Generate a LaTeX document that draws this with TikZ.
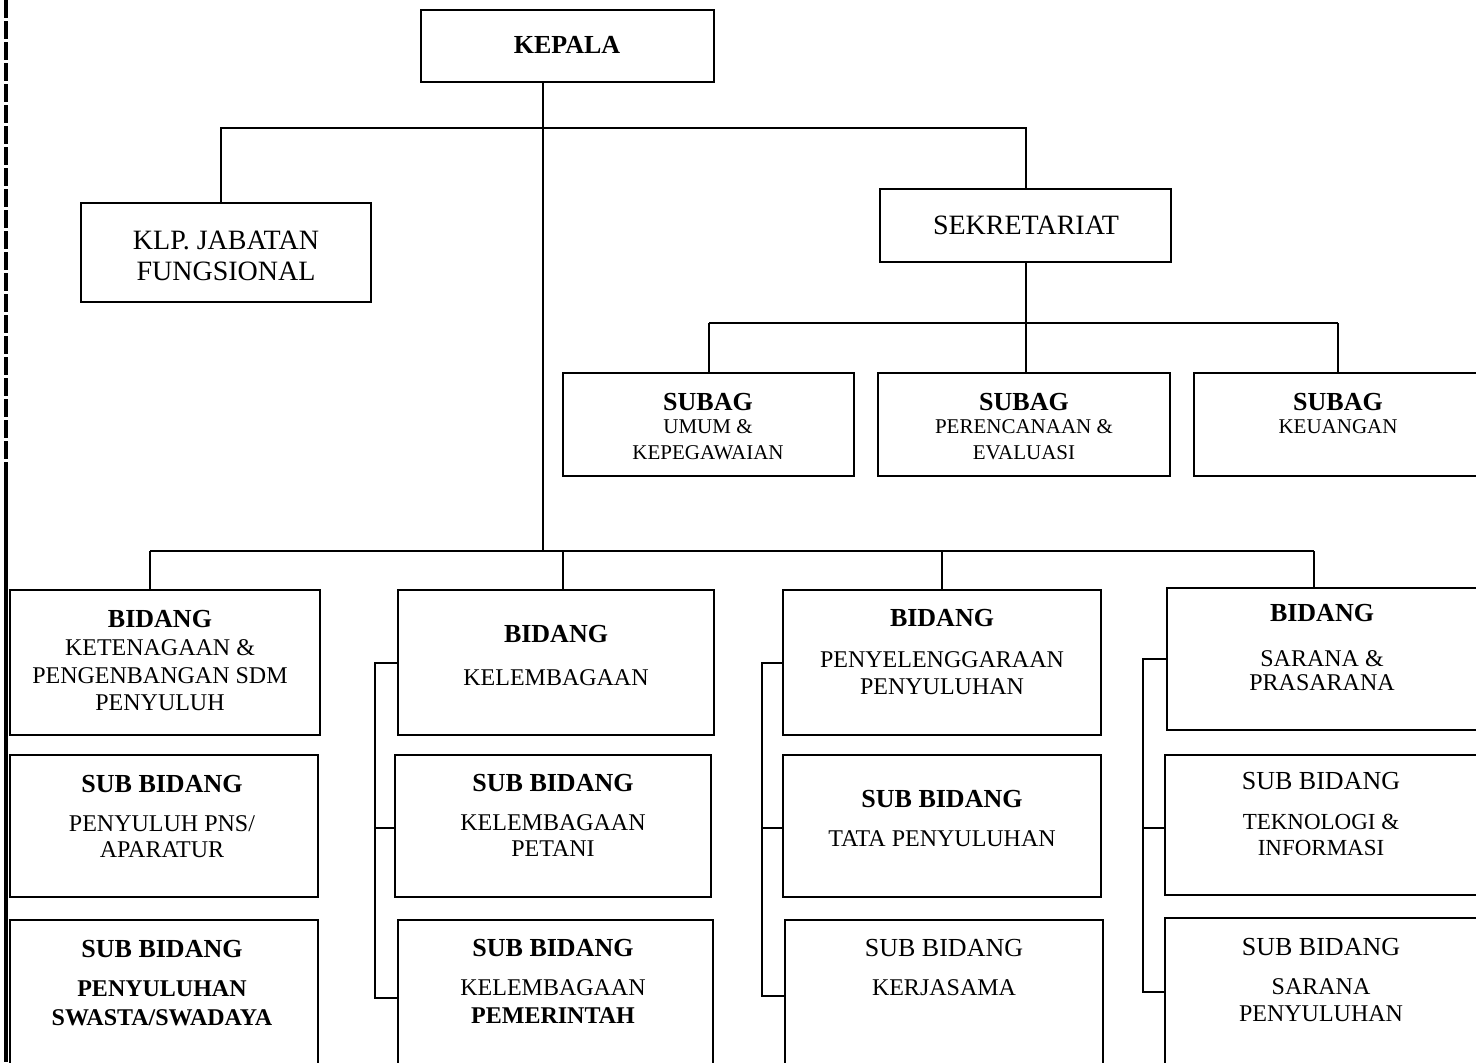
\documentclass[tikz,border=0pt]{standalone}
\usepackage{fontspec}
\setmainfont{Liberation Serif}
\usetikzlibrary{fit}
\begin{document}
\begin{tikzpicture}[x=0.5pt,y=-0.5pt,
  box/.style={draw,line width=0.9pt,inner sep=0pt},
  conn/.style={line width=0.7pt},
  brk/.style={line width=0.9pt},
  hd/.style={font=\fontsize{13}{15}\selectfont\bfseries,inner sep=0pt,anchor=base},
  hr/.style={font=\fontsize{13}{15}\selectfont,inner sep=0pt,anchor=base},
  tx/.style={font=\fontsize{12}{14}\selectfont,inner sep=0pt,anchor=base},
  txs/.style={font=\fontsize{11.5}{14}\selectfont,inner sep=0pt,anchor=base},
  txb/.style={font=\fontsize{12}{14}\selectfont\bfseries,inner sep=0pt,anchor=base},
  sm/.style={font=\fontsize{10.5}{12}\selectfont,inner sep=0pt,anchor=base},
  big/.style={font=\fontsize{14}{16}\selectfont,inner sep=0pt,anchor=base}]
\useasboundingbox (0,0) rectangle (1476,1062);
\clip (0,0) rectangle (1476,1062);
\fill[white] (0,0) rectangle (1476,1062);

% scan edge at the left
\draw[line width=1.6pt,dash pattern=on 9pt off 1.5pt] (6,0) -- (6,470);
\draw[line width=2.4pt] (6,470) -- (6,1062);

% boxes
\node[box,fit={(421,10)(714,82)}] (kepala) {};
\node[box,fit={(81,203)(371,302)}] (klp) {};
\node[box,fit={(880,189)(1171,262)}] (sekr) {};
\node[box,fit={(563,373)(854,476)}] (sg1) {};
\node[box,fit={(878,373)(1170,476)}] (sg2) {};
\node[box,fit={(1194,373)(1490,476)}] (sg3) {};
\node[box,fit={(10,590)(320,735)}] (b1) {};
\node[box,fit={(398,590)(714,735)}] (b2) {};
\node[box,fit={(783,590)(1101,735)}] (b3) {};
\node[box,fit={(1167,588)(1490,730)}] (b4) {};
\node[box,fit={(10,755)(318,897)}] (s11) {};
\node[box,fit={(395,755)(711,897)}] (s12) {};
\node[box,fit={(783,755)(1101,897)}] (s13) {};
\node[box,fit={(1165,755)(1490,895)}] (s14) {};
\node[box,fit={(10,920)(318,1080)}] (s21) {};
\node[box,fit={(398,920)(713,1080)}] (s22) {};
\node[box,fit={(785,920)(1103,1080)}] (s23) {};
\node[box,fit={(1165,918)(1490,1080)}] (s24) {};

% texts
\node[hd] (t-kepala) at (567,53) {KEPALA};
\node[big] (t-klp1) at (226,249) {KLP. JABATAN};
\node[big] (t-klp2) at (226,280) {FUNGSIONAL};
\node[big] (t-sekr) at (1026,234) {SEKRETARIAT};

\node[hd] (t-sg1a) at (708,410) {SUBAG};
\node[sm] (t-sg1b) at (708,433) {UMUM \&};
\node[sm] (t-sg1c) at (708,459) {KEPEGAWAIAN};
\node[hd] (t-sg2a) at (1024,410) {SUBAG};
\node[sm] (t-sg2b) at (1024,433) {PERENCANAAN \&};
\node[sm] (t-sg2c) at (1024,459) {EVALUASI};
\node[hd] (t-sg3a) at (1338,410) {SUBAG};
\node[sm] (t-sg3b) at (1338,433) {KEUANGAN};

\node[hd] (t-b1a) at (160,627) {BIDANG};
\node[tx] (t-b1b) at (160,655) {KETENAGAAN \&};
\node[tx] (t-b1c) at (160,683) {PENGENBANGAN SDM};
\node[tx] (t-b1d) at (160,710) {PENYULUH};
\node[hd] (t-b2a) at (556,642) {BIDANG};
\node[tx] (t-b2b) at (556,685) {KELEMBAGAAN};
\node[hd] (t-b3a) at (942,626) {BIDANG};
\node[tx] (t-b3b) at (942,667) {PENYELENGGARAAN};
\node[tx] (t-b3c) at (942,694) {PENYULUHAN};
\node[hd] (t-b4a) at (1322,621) {BIDANG};
\node[tx] (t-b4b) at (1322,666) {SARANA \&};
\node[tx] (t-b4c) at (1322,690) {PRASARANA};

\node[hd] (t-s11a) at (162,792) {SUB BIDANG};
\node[tx] (t-s11b) at (162,831) {PENYULUH PNS/};
\node[tx] (t-s11c) at (162,857) {APARATUR};
\node[hd] (t-s12a) at (553,791) {SUB BIDANG};
\node[tx] (t-s12b) at (553,830) {KELEMBAGAAN};
\node[tx] (t-s12c) at (553,856) {PETANI};
\node[hd] (t-s13a) at (942,807) {SUB BIDANG};
\node[tx] (t-s13b) at (942,846) {TATA PENYULUHAN};
\node[hr] (t-s14a) at (1321,789) {SUB BIDANG};
\node[txs] (t-s14b) at (1321,829) {TEKNOLOGI \&};
\node[txs] (t-s14c) at (1321,855) {INFORMASI};

\node[hd] (t-s21a) at (162,957) {SUB BIDANG};
\node[txb] (t-s21b) at (162,996) {PENYULUHAN};
\node[txb] (t-s21c) at (162,1025) {SWASTA/SWADAYA};
\node[hd] (t-s22a) at (553,956) {SUB BIDANG};
\node[tx] (t-s22b) at (553,995) {KELEMBAGAAN};
\node[txb] (t-s22c) at (553,1023) {PEMERINTAH};
\node[hr] (t-s23a) at (944,956) {SUB BIDANG};
\node[tx] (t-s23b) at (944,995) {KERJASAMA};
\node[hr] (t-s24a) at (1321,955) {SUB BIDANG};
\node[tx] (t-s24b) at (1321,994) {SARANA};
\node[tx] (t-s24c) at (1321,1021) {PENYULUHAN};

% connectors: top level
\coordinate (jk) at (543,128);
\coordinate (jl) at (221,128);
\coordinate (jr) at (1026,128);
\draw[conn] (kepala.south -| jk) -- (jk);
\draw[conn] (klp.north -| jl) -- (jl) -- (jr) -- (sekr.north -| jr);

% secretariat
\coordinate (js) at (1026,323);
\coordinate (js1) at (709,323);
\coordinate (js3) at (1338,323);
\draw[conn] (sekr.south -| js) -- (js);
\draw[conn] (js1) -- (js3);
\draw[conn] (js1) -- (sg1.north -| js1);
\draw[conn] (js) -- (sg2.north -| js);
\draw[conn] (js3) -- (sg3.north -| js3);

% bidang
\coordinate (jb) at (543,551);
\coordinate (jb1) at (150,551);
\coordinate (jb2) at (563,551);
\coordinate (jb3) at (942,551);
\coordinate (jb4) at (1314,551);
\draw[conn] (jk) -- (jb);
\draw[conn] (jb1) -- (jb4);
\draw[conn] (jb1) -- (b1.north -| jb1);
\draw[conn] (jb2) -- (b2.north -| jb2);
\draw[conn] (jb3) -- (b3.north -| jb3);
\draw[conn] (jb4) -- (b4.north -| jb4);

% brackets
\coordinate (k2a) at (375,663);
\coordinate (k2b) at (375,828);
\coordinate (k2c) at (375,998);
\draw[brk] (b2.west |- k2a) -- (k2a) -- (k2c) -- (s22.west |- k2c);
\draw[brk] (k2b) -- (s12.west |- k2b);
\coordinate (k3a) at (762,663);
\coordinate (k3b) at (762,828);
\coordinate (k3c) at (762,996);
\draw[brk] (b3.west |- k3a) -- (k3a) -- (k3c) -- (s23.west |- k3c);
\draw[brk] (k3b) -- (s13.west |- k3b);
\coordinate (k4a) at (1143,659);
\coordinate (k4b) at (1143,828);
\coordinate (k4c) at (1143,992);
\draw[brk] (b4.west |- k4a) -- (k4a) -- (k4c) -- (s24.west |- k4c);
\draw[brk] (k4b) -- (s14.west |- k4b);
\end{tikzpicture}
\end{document}
